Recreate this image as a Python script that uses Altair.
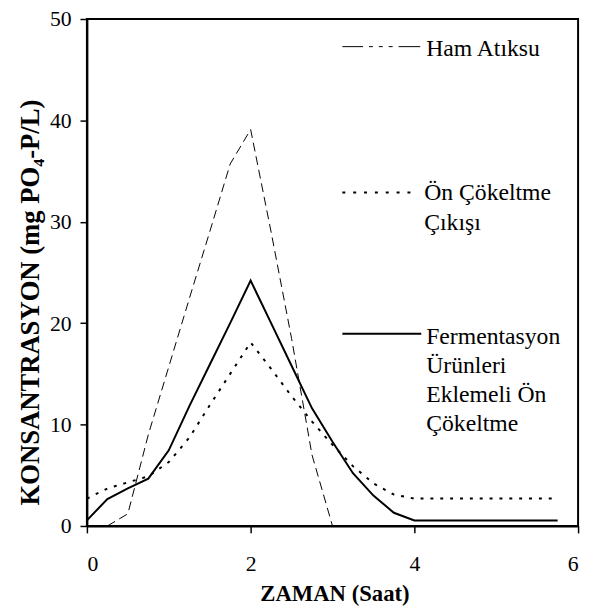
import altair as alt
import pandas as pd

# --- data ---
hours = [0, 0.25, 0.5, 0.75, 1, 1.25, 1.5, 1.75, 2, 2.25, 2.5, 2.75,
         3, 3.25, 3.5, 3.75, 4, 4.25, 4.5, 4.75, 5, 5.25, 5.5, 5.75]

ham_hours = [0.25, 0.5, 0.75, 1, 1.25, 1.5, 1.75, 2, 2.25, 2.5, 2.75, 3]
ham_values = [0, 1.2, 9.0, 15.7, 22.4, 29.0, 35.7, 39.1, 29.0, 18.5, 7.0, 0.0]

on_values = [2.7, 3.7, 4.3, 4.9, 6.3, 8.7, 11.9, 15.0, 18.1, 15.5, 12.8, 10.3,
             8.0, 5.9, 4.2, 3.1, 2.7, 2.7, 2.7, 2.7, 2.7, 2.7, 2.7, 2.7]

ferm_values = [0.55, 2.66, 3.7, 4.67, 7.46, 11.8, 15.9, 20.0, 24.2, 20.0, 15.8, 11.6,
               8.3, 5.2, 3.0, 1.3, 0.55, 0.55, 0.55, 0.55, 0.55, 0.55, 0.55, 0.55]

legend_lines = [["Ham Atıksu"], ["Ön Çökeltme", "Çıkışı"],
                ["Fermentasyon", "Ürünleri", "Eklemeli Ön", "Çökeltme"]]

x_ticks = [0, 2, 4, 6]
y_ticks = [0, 10, 20, 30, 40, 50]

FONT = "'Times New Roman', 'Liberation Serif', Tinos, 'DejaVu Serif', serif"

df_ham = pd.DataFrame({"t": ham_hours, "c": ham_values})
df_on = pd.DataFrame({"t": hours, "c": on_values})
df_ferm = pd.DataFrame({"t": hours, "c": ferm_values})

x_enc = alt.X("t:Q", scale=alt.Scale(domain=[0, 6], nice=False),
              axis=alt.Axis(values=x_ticks, format="d", title="ZAMAN (Saat)", grid=False,
                            tickSize=7, labelPadding=21, labelFontSize=22, labelFont=FONT,
                            titleFont=FONT, titleFontSize=23, titleFontWeight="bold",
                            titleBaseline="alphabetic", titleY=76, titleX=251))
y_enc = alt.Y("c:Q", scale=alt.Scale(domain=[0, 50], nice=False),
              axis=alt.Axis(values=y_ticks, format="d", title="KONSANTRASYON (mg PO₄-P/L)",
                            grid=False, tickSize=7, labelPadding=9, labelFontSize=22,
                            labelFont=FONT, titleFont=FONT,
                            titleFontSize=27, titleFontWeight="bold",
                            titleAngle=270, titleAlign="center",
                            titleBaseline="alphabetic", titleX=-49, titleY=287))

ham = alt.Chart(df_ham).mark_line(color="black", strokeWidth=1, strokeDash=[9, 5]).encode(x=x_enc, y=y_enc)
on = alt.Chart(df_on).mark_line(color="black", strokeWidth=2, strokeDash=[3, 7]).encode(x="t:Q", y="c:Q")
ferm = alt.Chart(df_ferm).mark_line(color="black", strokeWidth=2).encode(x="t:Q", y="c:Q")

# legend (inside plot, drawn manually)
leg_ham_line = alt.Chart().mark_rule(color="black", strokeWidth=1,
                                     strokeDash=[21, 6, 4, 6, 4, 6, 4, 6, 22]).encode(
    x=alt.value(259), x2=alt.value(338), y=alt.value(28))
leg_on_line = alt.Chart().mark_rule(color="black", strokeWidth=2, strokeDash=[3, 8]).encode(
    x=alt.value(259), x2=alt.value(331), y=alt.value(176))
leg_ferm_line = alt.Chart().mark_rule(color="black", strokeWidth=2).encode(
    x=alt.value(259), x2=alt.value(339), y=alt.value(319))

txt = dict(font=FONT, fontSize=24, align="left", baseline="alphabetic",
           color="black", lineHeight=29.6)
leg_ham_txt = alt.Chart().mark_text(**txt).encode(
    x=alt.value(344), y=alt.value(37), text=alt.value(legend_lines[0]))
leg_on_txt = alt.Chart().mark_text(**txt).encode(
    x=alt.value(342), y=alt.value(184), text=alt.value(legend_lines[1]))
leg_ferm_txt = alt.Chart().mark_text(**txt).encode(
    x=alt.value(344), y=alt.value(329), text=alt.value(legend_lines[2]))

chart = alt.layer(
    ham, on, ferm,
    leg_ham_line, leg_on_line, leg_ferm_line,
    leg_ham_txt, leg_on_txt, leg_ferm_txt,
).properties(
    width=498, height=514,
    autosize=alt.AutoSizeParams(type="none"),
    padding={"left": 80, "top": 7, "right": 6, "bottom": 79},
    background="white",
).configure(
    font=FONT
).configure_view(
    stroke="black", strokeWidth=2
).configure_axis(
    domainColor="black", domainWidth=2, tickColor="black", tickWidth=1.5,
    labelColor="black", titleColor="black", labelFont=FONT, titleFont=FONT,
)

chart.save("out.html", embed_options={"renderer": "svg", "actions": False})
